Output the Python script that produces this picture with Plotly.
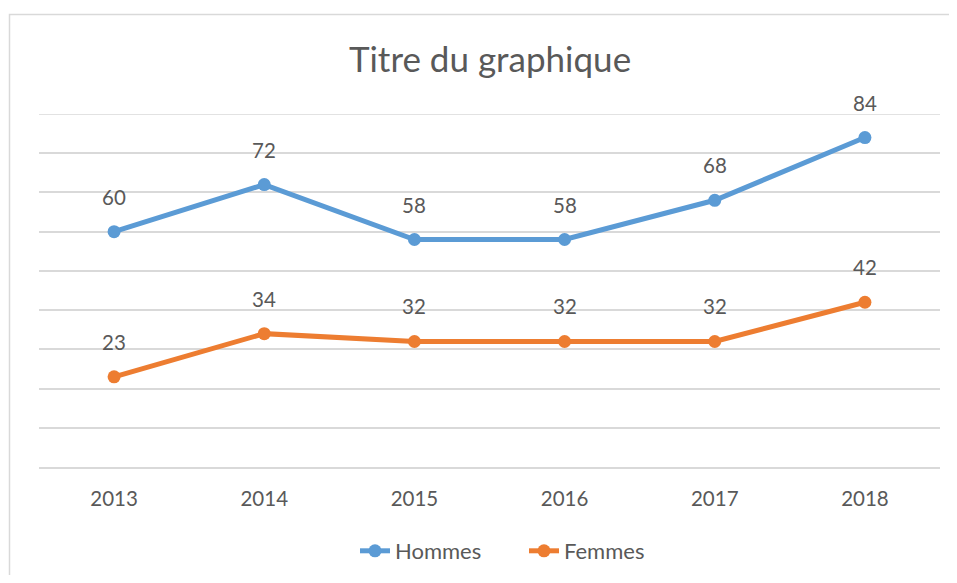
import plotly.graph_objects as go

years = ["2013", "2014", "2015", "2016", "2017", "2018"]
hommes = [60, 72, 58, 58, 68, 84]
femmes = [23, 34, 32, 32, 32, 42]

BLUE = "#5B9BD5"
ORANGE = "#ED7D31"
TXT = "#595959"
GRID = "#D9D9D9"
FONT = "Lato, 'Open Sans', sans-serif"

# page has an 8px body margin; figure coordinates = screen - 8
OFF = 8
W, H = 957 - 2 * OFF, 583 - 2 * OFF
L, R, T, B = 39 - OFF, 957 - OFF - 940, 114 - OFF, 583 - OFF - 467
pw = W - L - R
ph = H - T - B
YMAX = 90


def sx(px):
    return (px - OFF - L) / pw


def sy(py):
    return (H - B - (py - OFF)) / ph


fig = go.Figure()
fig.add_trace(go.Scatter(x=years, y=hommes, name="Hommes", mode="lines+markers",
                         line=dict(color=BLUE, width=5), marker=dict(size=13, color=BLUE)))
fig.add_trace(go.Scatter(x=years, y=femmes, name="Femmes", mode="lines+markers",
                         line=dict(color=ORANGE, width=5), marker=dict(size=13, color=ORANGE)))

annotations = []
for ys in (hommes, femmes):
    for i, y in enumerate(ys):
        annotations.append(dict(x=i, y=y, xref="x", yref="y", text=str(y), showarrow=False,
                                yshift=35, font=dict(size=20.5, color=TXT, family=FONT)))

fig.update_layout(
    width=W, height=H,
    margin=dict(l=L, r=R, t=T, b=B, autoexpand=False),
    paper_bgcolor="white", plot_bgcolor="white",
    title=dict(text="Titre du graphique", x=sx(490), xref="paper", xanchor="center",
               y=1 - (60 - OFF) / H, yanchor="middle",
               font=dict(size=35, color=TXT, family=FONT)),
    xaxis=dict(type="category", range=[-0.5, 5.5], showgrid=False, showline=True,
               linecolor=GRID, linewidth=1.5, ticks="", ticklabelstandoff=13,
               tickfont=dict(size=20.5, color=TXT, family=FONT), zeroline=False),
    yaxis=dict(range=[0, YMAX], dtick=10, showgrid=True, gridcolor=GRID, gridwidth=1.5,
               showticklabels=False, zeroline=False, showline=False, ticks=""),
    legend=dict(orientation="h", x=sx(355), xanchor="left", y=sy(551),
                yanchor="middle", font=dict(size=22, color=TXT, family=FONT),
                traceorder="normal", entrywidth=124),
    showlegend=True,
    annotations=annotations,
    shapes=[
        dict(type="path", xref="paper", yref="paper",
             path="M {x0},{y0} L {x0},{y1} L {x1},{y1}".format(
                 x0=sx(9.5), y0=sy(600), y1=sy(14.5), x1=sx(1000)),
             line=dict(color=GRID, width=1.5), layer="below"),
        # top gridline (plotly drops the grid line lying on the plot edge)
        dict(type="line", xref="paper", yref="y", x0=0, x1=1, y0=YMAX, y1=YMAX,
             line=dict(color=GRID, width=1.5), layer="below"),
    ],
)

fig.write_html("out.html")
